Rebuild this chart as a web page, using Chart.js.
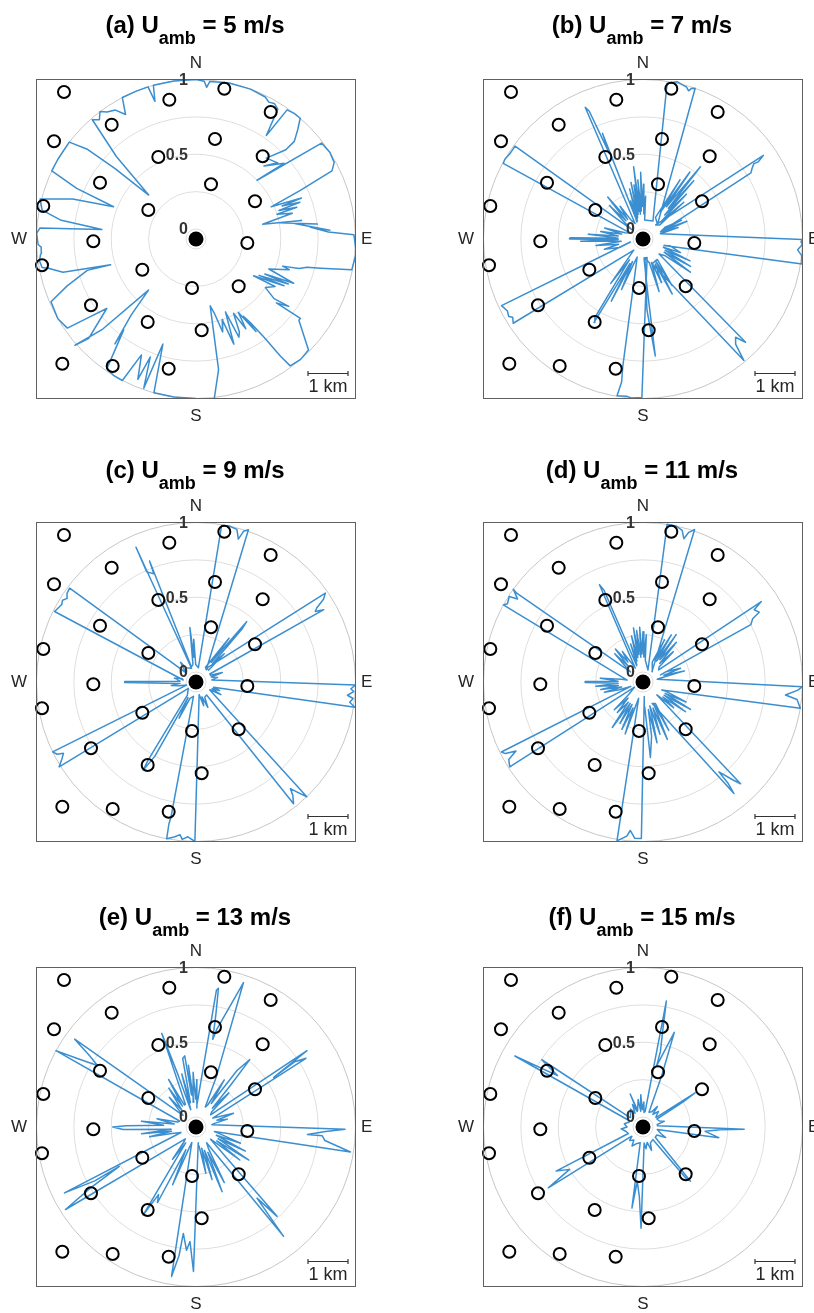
<!DOCTYPE html>
<html><head><meta charset="utf-8">
<script src="https://cdn.jsdelivr.net/npm/chart.js@4.4.1/dist/chart.umd.min.js"></script>
<style>
html,body{margin:0;padding:0;background:#fff;}
body{width:814px;height:1313px;overflow:hidden;position:relative;font-family:"Liberation Sans",Arial,sans-serif;}
canvas{position:absolute;}
.title{position:absolute;font-weight:bold;font-size:24px;line-height:24px;color:#000;white-space:nowrap;transform:translateX(-50%);}
.title sub{font-size:18px;line-height:0;vertical-align:-11px;}
</style></head><body>
<script>
// ---- data (km positions of turbines, polar curves as [direction deg, value]) ----
const turbX = [-3.30,-0.667,0.708,1.867,-2.108,-3.55,0.475,-0.942,1.667,-2.4,0.375,-3.817,1.475,-1.192,-2.567,1.283,-3.85,-1.342,-0.1,1.067,-2.625,-1.208,0.142,-3.342,-2.083,-0.683];
const turbY = [3.675,3.483,3.758,3.175,2.858,2.442,2.5,2.05,2.067,1.408,1.367,0.825,0.942,0.725,-0.058,-0.1,-0.658,-0.767,-1.225,-1.183,-1.658,-2.075,-2.283,-3.117,-3.175,-3.242];
const hubX = [0], hubY = [0];
const ringTicks = [0, 0.25, 0.5, 0.75, 1];
const ringLabels = [[0,'0'],[0.5,'0.5'],[1,'1']];
const compass = ['N','E','S','W'];
const titles = ['(a)','(b)','(c)','(d)','(e)','(f)'];
const speeds = [5,7,9,11,13,15];

const curveA = [[0,1.0],[3,0.99],[4,0.95],[5,0.99],[12,1.0],[20,1.0],[26,0.99],[28,0.97],[30,0.98],[32.2,0.96],[34.2,0.77],[35.2,0.99],[38,1.0],[40.8,1.0],[43,0.93],[45.2,0.86],[45.2,0.78],[41,0.65],[47,0.68],[43,0.6],[49.3,0.71],[46.1,0.5],[52.1,0.92],[52.6,0.99],[57,1.0],[61,0.99],[63.4,0.95],[65,0.7],[66.8,0.48],[68.8,0.69],[69,0.55],[70.5,0.67],[71,0.52],[72.5,0.64],[73,0.5],[75,0.6],[77.5,0.39],[80,0.65],[79,0.5],[83,0.75],[81,0.6],[86.3,0.83],[84,0.7],[87,0.82],[88.5,0.99],[95,1.01],[101.2,0.995],[103.2,0.79],[104.3,0.7],[106,0.65],[107.4,0.54],[108.2,0.59],[112.4,0.46],[114.4,0.65],[117,0.45],[116,0.62],[120,0.42],[118,0.6],[122.6,0.39],[121,0.55],[125,0.5],[127.4,0.59],[126,0.7],[128.5,0.62],[127.2,0.81],[128.3,0.81],[134.6,0.99],[139,1.0],[143.4,0.99],[144.2,0.9],[145.3,0.73],[147,0.6],[148.5,0.54],[147,0.67],[150,0.5],[151,0.62],[153.2,0.49],[155,0.62],[156.4,0.65],[158,0.46],[160.2,0.68],[162,0.5],[164,0.58],[166,0.45],[168,0.39],[170.2,0.82],[173.5,1.01],[180,1.0],[188,1.0],[195.3,1.0],[197.5,0.67],[199.3,0.99],[201.2,0.78],[202.5,0.95],[205.2,0.79],[207.5,1.0],[211,1.0],[214.5,0.985],[218.5,0.71],[217.7,0.82],[220.5,0.6],[222.9,0.4],[226,0.8],[228.7,1.01],[227.2,0.91],[232.1,0.69],[233.7,0.81],[235.3,0.98],[240,1.0],[246.6,0.99],[250,0.85],[253.9,0.69],[253.2,0.53],[256,0.85],[258.8,0.94],[259.5,0.98],[262,0.99],[264,0.98],[265,0.97],[267,0.97],[268,0.99],[272,1.0],[274,0.98],[275.8,0.566],[278,0.85],[280.6,0.98],[284.4,1.01],[288,0.8],[291.4,0.525],[293,0.8],[295.3,1.0],[300,1.0],[307.4,1.0],[309.5,0.88],[311,0.65],[312.9,0.365],[316,0.7],[319,0.99],[321,0.96],[323,1.0],[325,0.97],[328,0.95],[330.5,0.89],[332.5,1.0],[338,1.0],[342.5,1.0],[343.4,0.894],[344.5,1.0],[352,1.0],[360,1.0]];

const curveB = [[340,0.05],[342,0.2],[343,0.06],[345,0.28],[346,0.08],[348,0.32],[349,0.1],[350.5,0.3],[351.5,0.12],[352.6,0.42],[354,0.1],[355,0.33],[356.5,0.12],[358,0.38],[359,0.15],[0.5,0.3],[2,0.1],[3.5,0.22],[5,0.06],
[29,0.07],[8.8,0.988],[12.2,1.01],[16,0.99],[17.1,0.97],[17.8,0.99],[19.1,1.0],[45,0.07],
[30,0.1],[32,0.4],[33,0.15],[35,0.48],[36,0.2],[38.5,0.55],[39.5,0.2],[41,0.45],[42,0.15],[44,0.35],[46,0.1],[48,0.3],[50,0.08],
[42,0.06],[55.2,0.914],[56.2,0.86],[55.8,0.83],[57.2,0.8],[58.5,0.78],[68,0.06],
[62,0.1],[64,0.22],[66,0.08],[68,0.25],[70,0.07],[72,0.18],
[73,0.055],[90.2,1.0],[91,0.99],[92,1.0],[94,0.97],[96,1.0],[98.9,1.01],[107,0.08],
[104,0.12],[110,0.2],[112,0.08],[115,0.28],[117,0.1],[120,0.3],[122,0.1],[125,0.32],[127,0.12],
[133,0.08],[135.2,0.907],[136.7,0.836],[138.6,0.87],[140.3,0.99],[160,0.11],
[145,0.1],[148,0.3],[150,0.1],[152,0.35],[154,0.12],[157,0.25],[160,0.1],[163,0.3],[165,0.1],
[174,0.06],[176.8,0.41],[174,0.72],[175,0.3],[177,0.06],
[167.5,0.06],[180.4,0.993],[184,1.0],[186,0.99],[189.4,0.996],[188.5,0.9],[189,0.8],[198,0.06],
[200,0.1],[203,0.3],[205,0.1],[207,0.4],[208,0.12],[210.4,0.58],[211.5,0.55],[213,0.1],[216,0.3],[218,0.08],
[219.5,0.03],[237,0.968],[239,0.95],[240,0.97],[242,0.96],[244.8,0.979],[256.7,0.02],
[250,0.1],[255,0.2],[258,0.1],[262,0.25],[264,0.08],[268,0.35],[269,0.1],[270,0.425],[271,0.42],[272,0.1],[275,0.3],[277,0.1],[280,0.22],[283,0.08],[286,0.2],[289,0.06],
[295,0.03],[298.4,0.996],[300,1.0],[303,0.99],[306,0.991],[310,0.03],
[312,0.1],[315,0.25],[317,0.1],[320,0.3],[322,0.1],[325,0.2],[328,0.08],
[333,0.05],[336.3,0.895],[337.2,0.86],[338.5,0.55],[339,0.69],[341,0.06]];

const curveC = [[350,0.05],[353.6,0.3],[355,0.1],[357,0.22],[359,0.05],
[9.5,0.03],[9.3,0.994],[12,1.0],[15,0.99],[16.5,0.93],[17.5,0.99],[19,1.01],[40,0.04],
[33,0.05],[37,0.3],[38,0.1],[40,0.46],[41,0.4],[42,0.1],[45,0.2],[47,0.05],
[38,0.05],[55.5,0.983],[57,0.95],[58.5,0.88],[59.4,0.86],[60.5,0.915],[60,0.04],
[65,0.04],[70,0.12],[72,0.04],[78,0.08],
[83,0.04],[91.1,1.0],[92.5,0.97],[93.5,0.99],[95,0.95],[96,0.99],[97.5,0.97],[99,1.01],[107,0.055],
[110,0.1],[113,0.05],[117,0.12],[119,0.04],
[120,0.04],[136,1.0],[137.5,0.93],[138.5,0.886],[139.5,0.93],[141.3,0.977],[140.6,0.045],
[150,0.05],[155,0.12],[158,0.04],[162,0.1],
[166,0.02],[180.4,1.0],[183,0.97],[185,0.99],[186,0.96],[188,0.98],[190.6,1.0],[190.8,0.9],[190.5,0.85],[190,0.03],
[200,0.05],[205,0.2],[207,0.05],[209,0.5],[210.9,0.62],[211.5,0.55],[213,0.04],
[230,0.0],[238.2,1.01],[240,0.97],[241.7,0.94],[242.5,0.98],[244,1.0],[252,0.0],
[258,0.05],[262,0.1],[265,0.04],[269.5,0.41],[270.5,0.41],[273,0.04],[280,0.08],[284,0.03],
[279,0.02],[296.5,0.99],[300,0.97],[301.5,0.98],[303,0.96],[304.5,0.98],[306.6,0.986],[313,0.02],
[318,0.06],[322,0.1],[325,0.05],
[342,0.03],[336,0.92],[335.9,0.74],[338.7,0.71],[339,0.8],[343,0.04]];

const curveD = [[340,0.05],[342,0.2],[344,0.08],[346,0.25],[348,0.1],[350,0.3],[351,0.12],[353,0.28],[355,0.1],[356.5,0.3],[358,0.12],[0,0.27],[2,0.1],[4,0.25],[6,0.08],
[22.6,0.02],[8.7,1.0],[12,1.0],[14.5,0.98],[15.9,0.93],[17,0.98],[18.7,1.01],[41,0.025],
[25,0.08],[27,0.25],[29,0.1],[31,0.3],[33,0.1],[35,0.32],[37,0.12],[40,0.28],[42,0.1],[45,0.22],[47,0.08],
[52.5,0.065],[55.8,0.89],[57,0.82],[59,0.84],[60,0.78],[62,0.75],[68,0.06],
[66,0.1],[70,0.2],[72,0.08],[75,0.22],[77,0.06],
[79,0.03],[91.7,1.0],[93,0.97],[95.2,0.89],[96.5,0.97],[97.5,0.98],[99.5,1.0],[113,0.07],
[112,0.1],[115,0.25],[117,0.1],[120,0.3],[122,0.1],[125,0.28],[127,0.1],[130,0.2],
[132.9,0.06],[136.2,0.876],[137.5,0.82],[139.8,0.72],[140,0.82],[140.8,0.896],[157,0.09],
[150,0.1],[152,0.3],[154,0.1],[157,0.35],[159,0.12],[162,0.3],[164,0.1],[167,0.35],[169,0.12],[171,0.3],[174.4,0.44],[176,0.1],
[175,0.03],[180.6,0.98],[183,0.98],[184.9,0.93],[186,0.97],[189.3,1.01],[195,0.046],
[197,0.1],[199,0.3],[201,0.12],[204,0.28],[206,0.1],[209,0.25],[211,0.1],[214,0.3],[216,0.1],[220,0.2],[223,0.08],[226,0.2],[229,0.06],
[238.7,0.0],[237.5,0.99],[240,0.97],[241.5,0.9],[242.5,0.97],[243.7,0.99],[250,0.02],
[252,0.1],[255,0.2],[257,0.08],[260,0.22],[262,0.1],[265,0.25],[267,0.1],[269.5,0.32],[270.5,0.32],[272,0.1],[275,0.22],[277,0.08],
[277,0.04],[298.9,1.0],[300,0.98],[302.6,0.995],[303.5,0.94],[305.6,1.0],[305.1,0.966],[309,0.04],
[312,0.1],[315,0.2],[317,0.08],[320,0.22],[323,0.1],[326,0.18],[329,0.08],
[331,0.04],[335.9,0.646],[337,0.6],[339,0.05]];

const curveE = [[343,0.05],[345,0.3],[347,0.1],[349,0.4],[351,0.415],[352,0.15],[353,0.35],[355,0.1],[357,0.3],[359,0.12],[1,0.25],[3,0.06],
[2,0.08],[8.5,0.86],[9.2,0.873],[10,0.7],[10.8,0.53],[12,0.6],[18.2,0.95],[22,0.3],[25,0.08],
[28,0.1],[31,0.3],[33,0.12],[36,0.4],[38.6,0.51],[39.5,0.3],[41,0.1],[44,0.25],[46,0.08],
[50,0.06],[55.5,0.834],[57,0.6],[57.5,0.55],[56.5,0.72],[58,0.8],[62,0.06],
[66,0.1],[70,0.2],[72,0.08],[76,0.15],[79,0.06],
[82,0.04],[90.9,0.93],[92,0.8],[93.8,0.68],[94,0.78],[96,0.8],[99.2,0.98],[104,0.06],
[106,0.1],[110,0.25],[112,0.08],[116,0.3],[118,0.1],[122,0.35],[124,0.1],[127,0.3],
[130,0.06],[137.8,0.74],[139.4,0.56],[141.3,0.87],[146,0.06],
[150,0.1],[153,0.35],[155,0.12],[158,0.4],[160,0.1],[163,0.3],[165,0.08],[168,0.25],[171,0.06],
[172,0.04],[181,0.9],[183,0.7],[184.4,0.76],[186.8,0.65],[187.5,0.8],[189.3,0.946],[195,0.04],
[198,0.08],[202,0.35],[204,0.1],[207,0.5],[209,0.45],[211,0.62],[213,0.06],[216,0.2],[219,0.06],
[222,0.04],[237.7,0.966],[240,0.75],[242.8,0.51],[242,0.7],[243.4,0.917],[250,0.04],
[255,0.1],[258,0.25],[260,0.1],[263,0.3],[265,0.1],[268,0.42],[270,0.49],[271,0.4],[273,0.15],[276,0.3],[278,0.08],[282,0.2],[285,0.06],
[290,0.05],[298.6,1.0],[300,0.85],[302,0.71],[304,0.8],[305.9,0.935],[312,0.05],
[315,0.1],[318,0.2],[320,0.08],[325,0.25],[327,0.1],[330,0.3],[332,0.1],
[335,0.1],[339.9,0.6],[341,0.3],[343,0.05]];

const curveF = [[340,0.04],[338.8,0.17],[342,0.05],[350,0.12],[352,0.04],[356,0.15],[358,0.05],[2,0.1],[4,0.03],
[8,0.04],[10.5,0.79],[11.5,0.6],[13,0.45],[12.5,0.35],[18.3,0.6],[20,0.3],[22,0.04],
[30,0.05],[35,0.1],[38,0.04],[45,0.08],[50,0.05],
[54,0.04],[56.7,0.35],[58,0.25],[60,0.04],
[70,0.05],[75,0.08],[80,0.03],
[85,0.03],[91.3,0.61],[92,0.45],[94,0.35],[98,0.445],[100,0.03],
[110,0.06],[115,0.1],[120,0.04],
[130,0.04],[138.8,0.415],[140,0.38],[142,0.04],
[155,0.05],[160,0.1],[165,0.04],[172,0.08],
[176,0.04],[181.1,0.61],[183,0.4],[186,0.3],[187.8,0.48],[190,0.04],
[200,0.05],[210,0.08],[215,0.04],[225,0.06],[230,0.03],
[232,0.04],[237.3,0.686],[240,0.5],[243.1,0.585],[246,0.04],
[255,0.05],[265,0.08],[270,0.04],[280,0.06],[290,0.03],
[295,0.04],[299,0.913],[301,0.6],[303.6,0.746],[306,0.04],
[315,0.05],[325,0.08],[330,0.04],[335,0.1],[340,0.04]];

const curves = [curveA, curveB, curveC, curveD, curveE, curveF];

// ---- layout ----
const R0 = 0.25, R1 = 3.9875;   // km radius of value 0 and value 1
const panelLeft = [0, 447, 0, 447, 0, 447];
const panelTop = [0, 0, 443, 443, 888, 888];
const titleBase = [33, 33, 478, 478, 925, 925];

function toXY(pts){
  const out = pts.map(([d, r]) => { const t = d*Math.PI/180, k = R0 + (R1-R0)*r; return {x:k*Math.sin(t), y:k*Math.cos(t)}; });
  out.push(out[0]);
  return out;
}

const deco = {
  id: 'deco',
  beforeDatasetsDraw(chart){
    const {ctx, scales:{x, y}} = chart;
    const cx = x.getPixelForValue(0), cy = y.getPixelForValue(0), k = x.getPixelForValue(1) - cx;
    ctx.save();
    ctx.lineWidth = 1;
    ringTicks.forEach(t => {
      ctx.strokeStyle = t === 1 ? '#c6c6c6' : '#dedede';
      ctx.beginPath(); ctx.arc(cx, cy, (R0 + (R1-R0)*t)*k, 0, 2*Math.PI); ctx.stroke();
    });
    ctx.restore();
  },
  afterDatasetsDraw(chart){
    const {ctx, chartArea:a, scales:{x, y}} = chart;
    const cx = x.getPixelForValue(0), cy = y.getPixelForValue(0), k = x.getPixelForValue(1) - cx;
    ctx.save();
    ctx.strokeStyle = '#606060'; ctx.lineWidth = 1;
    ctx.strokeRect(a.left + 0.5, a.top + 0.5, a.right - a.left - 1, a.bottom - a.top - 1);
    ctx.fillStyle = '#333'; ctx.font = 'bold 16px "Liberation Sans", Arial, sans-serif';
    ctx.textAlign = 'right'; ctx.textBaseline = 'middle';
    ringLabels.forEach(([t, s]) => ctx.fillText(s, cx - 8, cy - (R0 + (R1-R0)*t)*k + 1));
    ctx.fillStyle = '#262626'; ctx.font = '17px "Liberation Sans", Arial, sans-serif';
    ctx.textAlign = 'center'; ctx.fillText(compass[0], cx, cy - 176);
    ctx.fillText(compass[2], cx, cy + 177);
    ctx.textAlign = 'left'; ctx.fillText(compass[1], cx + 165, cy);
    ctx.textAlign = 'right'; ctx.fillText(compass[3], cx - 169, cy);
    const x1 = x.getPixelForValue(2.8), x2 = x.getPixelForValue(3.8), yb = Math.round(a.bottom - 26) + 0.5;
    ctx.strokeStyle = '#333'; ctx.lineWidth = 1.2;
    ctx.beginPath(); ctx.moveTo(x1, yb); ctx.lineTo(x2, yb);
    ctx.moveTo(x1, yb - 2.5); ctx.lineTo(x1, yb + 2.5);
    ctx.moveTo(x2, yb - 2.5); ctx.lineTo(x2, yb + 2.5); ctx.stroke();
    ctx.fillStyle = '#262626'; ctx.font = '18px "Liberation Sans", Arial, sans-serif';
    ctx.textAlign = 'center'; ctx.fillText('1 km', (x1 + x2)/2, yb + 14);
    ctx.restore();
  }
};

curves.forEach((c, i) => {
  const cv = document.createElement('canvas');
  cv.width = 407; cv.height = 440;
  cv.style.left = panelLeft[i] + 'px'; cv.style.top = panelTop[i] + 'px';
  document.body.appendChild(cv);
  new Chart(cv, {
    type: 'scatter',
    data: { datasets: [
      { data: hubX.map((v, j) => ({x:v, y:hubY[j]})), pointRadius: 7.5, pointBackgroundColor:'#000', pointBorderWidth:0, order:0 },
      { data: turbX.map((v, j) => ({x:v, y:turbY[j]})), pointRadius: 6, pointBorderWidth: 2, pointBorderColor:'#000', pointBackgroundColor:'rgba(0,0,0,0)', clip:false, order:1 },
      { data: toXY(c), showLine:true, pointRadius:0, borderColor:'#3b8fd0', borderWidth:1.5, borderJoinStyle:'round', tension:0, order:2 }
    ]},
    options: {
      responsive:false, animation:false, events:[],
      layout:{padding:{left:36, top:79, right:51, bottom:41}},
      scales:{ x:{type:'linear', min:-4, max:4, display:false}, y:{type:'linear', min:-4, max:4, display:false} },
      plugins:{ legend:{display:false}, tooltip:{enabled:false} }
    },
    plugins:[deco]
  });
  const t = document.createElement('div');
  t.className = 'title';
  t.style.left = (panelLeft[i] + 195) + 'px';
  t.style.top = (titleBase[i] - 20.3) + 'px';
  t.innerHTML = titles[i] + ' U<sub>amb</sub> = ' + speeds[i] + ' m/s';
  document.body.appendChild(t);
});
</script>
</body></html>
